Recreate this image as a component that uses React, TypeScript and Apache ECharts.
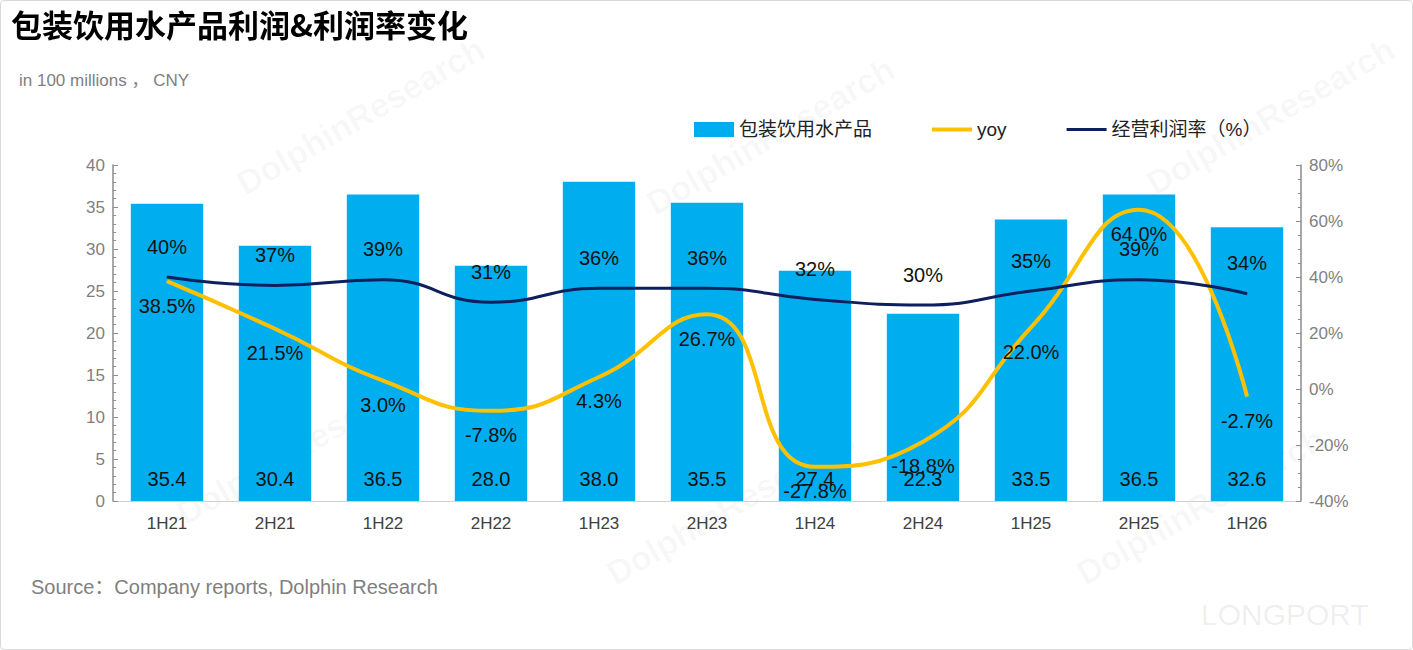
import { useEffect, useRef } from 'react';
import * as echarts from 'echarts';

const categories = ['1H21', '2H21', '1H22', '2H22', '1H23', '2H23', '1H24', '2H24', '1H25', '2H25', '1H26'];
const profit = [35.4, 30.4, 36.5, 28.0, 38.0, 35.5, 27.4, 22.3, 33.5, 36.5, 32.6];
const yoy = [38.5, 21.5, 3.0, -7.8, 4.3, 26.7, -27.8, -18.8, 22.0, 64.0, -2.7];
const margin = [40, 37, 39, 31, 36, 36, 32, 30, 35, 39, 34];

const FONT = '"Liberation Sans", "Noto Sans CJK SC", sans-serif';

export default function App() {
  const containerRef = useRef<HTMLDivElement>(null);

  useEffect(() => {
    if (!containerRef.current) return;
    const chart = echarts.init(containerRef.current, null, { renderer: 'svg' });

    const wm = (x: number, y: number) => ({
      type: 'text',
      x,
      y,
      rotation: Math.PI / 6,
      silent: true,
      z: -1,
      style: { text: 'DolphinResearch', fill: 'rgba(0,0,0,0.035)', font: `bold 34px ${FONT}` }
    });

    const axisCommon = {
      axisLine: { show: true, lineStyle: { color: '#8c8c8c', width: 1.5 } },
      axisTick: { show: true, inside: true, length: 5, lineStyle: { color: '#8c8c8c' } },
      splitLine: { show: false },
      axisLabel: { color: '#7f7f7f', fontSize: 17, fontFamily: FONT }
    };

    const hiddenPoint = { symbol: 'circle', symbolSize: 1, showSymbol: true };

    chart.setOption({
      animation: false,
      textStyle: { fontFamily: FONT },
      graphic: [
        wm(170, 500), wm(230, 170), wm(600, 560), wm(640, 190), wm(1070, 560), wm(1140, 170),
        {
          type: 'text', left: 10, top: 7,
          style: { text: '包装饮用水产品利润&利润率变化', fill: '#000', font: `bold 31px "Noto Sans CJK SC", sans-serif` }
        },
        {
          type: 'text', left: 18, top: 71,
          style: { text: 'in 100 millions ， CNY', fill: '#7f7f7f', font: `17px ${FONT}` }
        },
        {
          type: 'text', left: 30, top: 576,
          style: { text: 'Source：Company reports, Dolphin Research', fill: '#7f7f7f', font: `20px ${FONT}` }
        },
        {
          type: 'text', left: 1200, top: 598,
          style: { text: 'LONGPORT', fill: 'rgba(0,0,0,0.08)', font: `30px ${FONT}` }
        }
      ],
      legend: {
        top: 114,
        left: 688,
        itemGap: 60,
        itemWidth: 40,
        itemHeight: 15,
        textStyle: { color: '#222', fontSize: 19, fontFamily: FONT },
        data: [
          { name: '包装饮用水产品', icon: 'rect' },
          { name: 'yoy', icon: 'path://M0,0 L40,0 L40,4 L0,4 Z' },
          { name: '经营利润率（%）', icon: 'path://M0,0 L40,0 L40,3 L0,3 Z' }
        ]
      },
      grid: { left: 112, right: 111, top: 164, bottom: 148 },
      xAxis: {
        type: 'category',
        data: categories,
        axisLine: { lineStyle: { color: '#d0d0d0' } },
        axisTick: { show: false },
        axisLabel: { color: '#404040', fontSize: 17, margin: 14, fontFamily: FONT }
      },
      yAxis: [
        {
          type: 'value', min: 0, max: 40, interval: 5,
          minorTick: { show: true, splitNumber: 5, length: 3, lineStyle: { color: '#8c8c8c' } },
          ...axisCommon
        },
        {
          type: 'value', min: -40, max: 80, interval: 20,
          minorTick: { show: true, splitNumber: 4, length: 3, lineStyle: { color: '#8c8c8c' } },
          ...axisCommon,
          axisLabel: { ...axisCommon.axisLabel, formatter: '{value}%' }
        }
      ],
      series: [
        {
          name: '包装饮用水产品',
          type: 'bar',
          data: profit,
          barWidth: '67%',
          itemStyle: { color: '#00aeef' },
          label: {
            show: true, position: 'insideBottom', distance: 12,
            color: '#111', fontSize: 20, formatter: (p: any) => p.value.toFixed(1)
          }
        },
        {
          name: 'yoy',
          type: 'line',
          yAxisIndex: 1,
          data: yoy,
          smooth: 0.5,
          ...hiddenPoint,
          lineStyle: { color: '#ffc000', width: 4 },
          itemStyle: { color: '#ffc000' },
          label: {
            show: true, position: 'bottom', distance: 14,
            color: '#111', fontSize: 20, formatter: (p: any) => p.value.toFixed(1) + '%'
          }
        },
        {
          name: '经营利润率（%）',
          type: 'line',
          yAxisIndex: 1,
          data: margin,
          smooth: 0.5,
          ...hiddenPoint,
          lineStyle: { color: '#0d1f5c', width: 3 },
          itemStyle: { color: '#0d1f5c' },
          label: {
            show: true, position: 'top', distance: 20,
            color: '#111', fontSize: 20, formatter: '{c}%'
          }
        }
      ]
    });

    return () => chart.dispose();
  }, []);

  return (
    <div
      ref={containerRef}
      style={{
        position: 'fixed', left: 0, top: 0, width: 1411, height: 648,
        border: '1px solid #d9d9d9', borderRadius: 4, background: '#fff'
      }}
    />
  );
}
